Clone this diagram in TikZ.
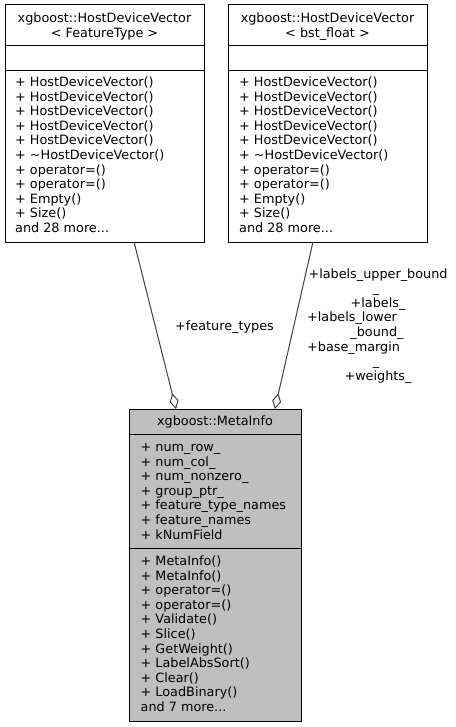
\documentclass[tikz,border=0pt]{standalone}
\usepackage{fontspec}
\setmainfont{DejaVu Sans}
\usetikzlibrary{arrows.meta}
\definecolor{edgegray}{HTML}{404040}
\definecolor{hilite}{HTML}{BFBFBF}
\newcommand\threedots{...}
\begin{document}
\begin{tikzpicture}[x=1pt,y=-1pt,
  box/.style={draw=black, line width=1pt, rectangle, inner sep=0pt, outer sep=0pt, anchor=north west},
  txt/.style={font=\fontsize{12.8}{14.6}\selectfont, inner sep=0pt, anchor=base west},
  ctxt/.style={font=\fontsize{12.8}{14.6}\selectfont, inner sep=0pt, anchor=base},
  sep/.style={draw=black, line width=1pt},
  agg/.style={draw=edgegray, line width=1pt, -{Diamond[open, length=16pt, width=9pt]}}
]
\useasboundingbox (0,0) rectangle (455,727);

% boxes
\node[box, fill=white, minimum width=199pt, minimum height=237pt] (fs) at (5,5) {};
\node[box, fill=white, minimum width=199pt, minimum height=237pt] (bf) at (228,5) {};
\node[box, fill=hilite, minimum width=172pt, minimum height=312pt] (mi) at (129,409) {};

% separators
\draw[sep] (fs.west |- 0,45.7) -- (fs.east |- 0,45.7);
\draw[sep] (fs.west |- 0,70.7) -- (fs.east |- 0,70.7);
\draw[sep] (bf.west |- 0,45.7) -- (bf.east |- 0,45.7);
\draw[sep] (bf.west |- 0,70.7) -- (bf.east |- 0,70.7);
\draw[sep] (mi.west |- 0,434) -- (mi.east |- 0,434);
\draw[sep] (mi.west |- 0,548) -- (mi.east |- 0,548);

% titles
\node[ctxt] (fst1) at (104.5,22.5) {xgboost::HostDeviceVector};
\node[ctxt] (fst2) at (104.5,37.1) {< FeatureType >};
\node[ctxt] (bft1) at (327.5,22.5) {xgboost::HostDeviceVector};
\node[ctxt] (bft2) at (327.5,37.1) {< bst\_float >};
\node[ctxt] (mit) at (215,425.5) {xgboost::MetaInfo};

% methods of the two vectors
\foreach \t [count=\i] in {+ HostDeviceVector(), + HostDeviceVector(), + HostDeviceVector(),
  + HostDeviceVector(), + HostDeviceVector(), + \textasciitilde HostDeviceVector(),
  + operator=(), + operator=(), + Empty(), + Size(), and 28 more\threedots}{
  \node[txt] (fsm\i) at (15,{86.5+14.6*(\i-1)}) {\t};
  \node[txt] (bfm\i) at (239,{86.5+14.6*(\i-1)}) {\t};
}

% MetaInfo attributes
\foreach \t [count=\i] in {+ num\_row\_, + num\_col\_, + num\_nonzero\_, + group\_ptr\_,
  + feature\_type\_names, + feature\_names, + kNumField}{
  \node[txt] (mia\i) at (140.5,{451.5+14.6*(\i-1)}) {\t};
}

% MetaInfo methods
\foreach \t [count=\i] in {+ MetaInfo(), + MetaInfo(), + operator=(), + operator=(),
  + Validate(), + Slice(), + GetWeight(), + LabelAbsSort(), + Clear(), + LoadBinary(),
  and 7 more\threedots}{
  \node[txt] (mim\i) at (140.5,{565.5+14.6*(\i-1)}) {\t};
}

% connectors
\draw[agg] (fs.-76.0) -- (mi.104.9);
\draw[agg] (bf.-97.7) -- (mi.69.1);

% edge labels
\node[ctxt] (lft) at (224.5,330.5) {+feature\_types};
\node[ctxt] (l0) at (378,278) {+labels\_upper\_bound};
\node[ctxt] (l1) at (376,292.6) {\_};
\node[ctxt] (l2) at (378,307.2) {+labels\_};
\node[txt]  (l3) at (307,321.8) {+labels\_lower};
\node[ctxt] (l4) at (377,336.4) {\_bound\_};
\node[txt]  (l5) at (307,351) {+base\_margin};
\node[ctxt] (l6) at (376,365.6) {\_};
\node[ctxt] (l7) at (378,380.2) {+weights\_};
\end{tikzpicture}
\end{document}
